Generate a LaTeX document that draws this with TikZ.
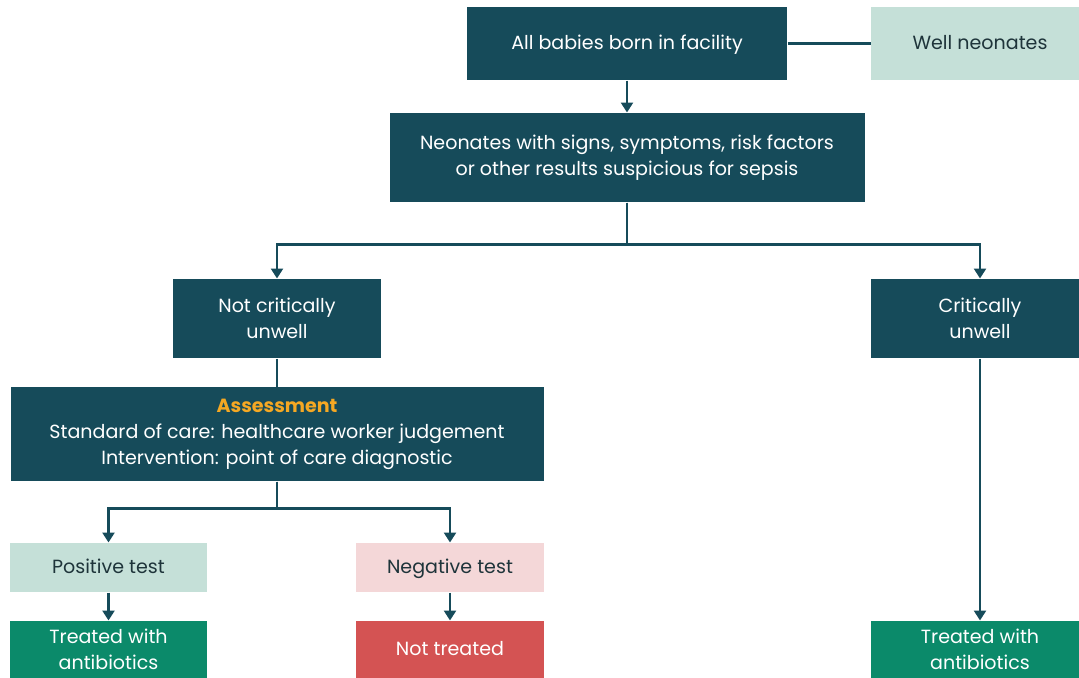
\documentclass[tikz,border=0pt]{standalone}
\usepackage{fontspec}
\setmainfont{Poppins}
\usetikzlibrary{arrows.meta}
\definecolor{darkteal}{RGB}{22,75,90}
\definecolor{palegreen}{RGB}{197,224,216}
\definecolor{palepink}{RGB}{244,215,216}
\definecolor{treatgreen}{RGB}{11,138,106}
\definecolor{notred}{RGB}{212,83,83}
\definecolor{assessorange}{RGB}{245,168,35}
\definecolor{darktext}{RGB}{30,52,58}

\tikzset{every picture/.style={line width=0.75pt}}

\begin{document}
\begin{tikzpicture}[x=0.75pt,y=0.75pt,yscale=-1,xscale=1,
  box/.style={inner sep=0pt, align=center, font=\fontsize{14.3}{19.5}\selectfont},
  oneline/.style={text height=11.8pt, text depth=2.2pt},
  darkbox/.style={box, fill=darkteal, text=white},
  lightbox/.style={box, fill=palegreen, text=darktext},
  pinkbox/.style={box, fill=palepink, text=darktext},
  treatbox/.style={box, fill=treatgreen, text=white},
  nottreatbox/.style={box, fill=notred, text=white},
  link/.style={draw=darkteal, line width=1.9pt},
  arr/.style={link, -{Triangle[width=9pt,length=7.5pt]}}]
\useasboundingbox (0,0) rectangle (1079,678);

%Top row
\node[darkbox, oneline, minimum width=240pt, minimum height=54.75pt] (born) at (627,43.5) {All babies born in facility};
\node[lightbox, oneline, minimum width=163.5pt, minimum height=54.75pt] (well) at (980,43.5) {Well neonates};

%Suspicion
\node[darkbox, minimum width=356.25pt, minimum height=66.75pt] (signs) at (627,157.5) {Neonates with signs, symptoms, risk factors\\or other results suspicious for sepsis};

%Condition
\node[darkbox, minimum width=156pt, minimum height=59.25pt] (notcrit) at (277,318.5) {Not critically\\unwell};
\node[darkbox, minimum width=163.5pt, minimum height=59.25pt] (crit) at (980,318.5) {Critically\\unwell};

%Assessment
\node[darkbox, minimum width=399.75pt, minimum height=70.5pt] (assess) at (277,434) {\textcolor{assessorange}{\bfseries Assessment}\\Standard of care: healthcare worker judgement\\Intervention: point of care diagnostic};

%Tests
\node[lightbox, oneline, minimum width=147.75pt, minimum height=36.75pt] (pos) at (108.5,567.5) {Positive test};
\node[pinkbox, oneline, minimum width=141pt, minimum height=36.75pt] (neg) at (450,567.5) {Negative test};

%Outcomes
\node[treatbox, minimum width=147.75pt, minimum height=42.75pt] (treatl) at (108.5,649.5) {Treated with\\antibiotics};
\node[nottreatbox, oneline, minimum width=141pt, minimum height=42.75pt] (nottreat) at (450,649.5) {Not treated};
\node[treatbox, minimum width=163.5pt, minimum height=42.75pt] (treatr) at (980,649.5) {Treated with\\antibiotics};

%Connectors
\draw[link] (born) -- (well);
\draw[arr] (born) -- (signs);
\draw[arr] (signs.south) -- ++(0,42) -| (notcrit.north);
\draw[arr] (signs.south) -- ++(0,42) -| (crit.north);
\draw[link] (notcrit) -- (assess);
\draw[arr] (assess.south) -- ++(0,27) -| (pos.north);
\draw[arr] (assess.south) -- ++(0,27) -| (neg.north);
\draw[arr] (pos) -- (treatl);
\draw[arr] (neg) -- (nottreat);
\draw[arr] (crit) -- (treatr);

\end{tikzpicture}
\end{document}
